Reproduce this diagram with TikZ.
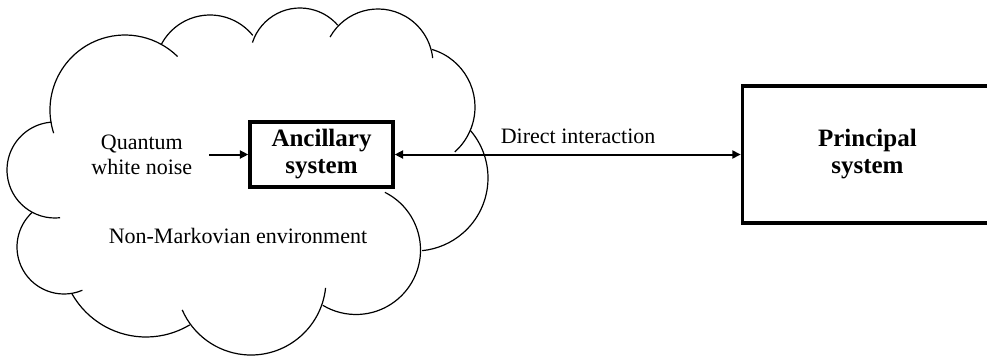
\documentclass[tikz,border=0pt]{standalone}
\usepackage{fontspec}
\setmainfont{Liberation Serif}
\usetikzlibrary{positioning,arrows.meta}

\begin{document}
\begin{tikzpicture}[x=0.5pt, y=-0.5pt,
  >={Triangle[length=4.2pt,width=4pt]},
  sysbox/.style={draw, line width=1.7pt, align=center, inner sep=0pt,
    font=\fontsize{12.5}{13.5}\selectfont\bfseries},
  txt/.style={align=center, font=\fontsize{11}{12.5}\selectfont},
  link/.style={line width=1pt},
  lobe/.style={line width=0.6pt}]

\useasboundingbox (0,0) rectangle (987,360);

% cloud, one arc per lobe: centre x / centre y / radius / start / end
\foreach \cx/\cy/\r/\a/\b in {55/170/48/84/266, 125/110/75/162/314.5,
    210/70/55/208/321, 300/58/50/198/319, 378/64/55/209.4/353.8,
    415/107/60/-73.4/48.4, 415/178/73/-41/84.4, 356/250/64.5/-63.4/121,
    251/280/75/6/156.5, 146/252/85/59/151, 64/247/47/67/227}
  \draw[lobe] (\cx,\cy) ++(\a:\r) arc[start angle=\a, end angle=\b, radius=\r];

% nodes
\node[sysbox, minimum width=71.5pt, minimum height=32.5pt] (anc) at (321.5,154.5) {Ancillary\\system};
\node[sysbox, minimum width=125pt, minimum height=68.5pt, right=173pt of anc] (prin) {Principal\\system};
\node[txt, left=24.5pt of anc] (noise) {Quantum\\white noise};
\node[txt] (env) at (238,236) {Non-Markovian environment};

% edges with labels
\draw[link, ->, shorten <=5pt] (noise) -- (anc);
\draw[link, <->] (anc) -- (prin) node[txt, pos=0.53, above=1.5pt] {Direct interaction};

\end{tikzpicture}
\end{document}
